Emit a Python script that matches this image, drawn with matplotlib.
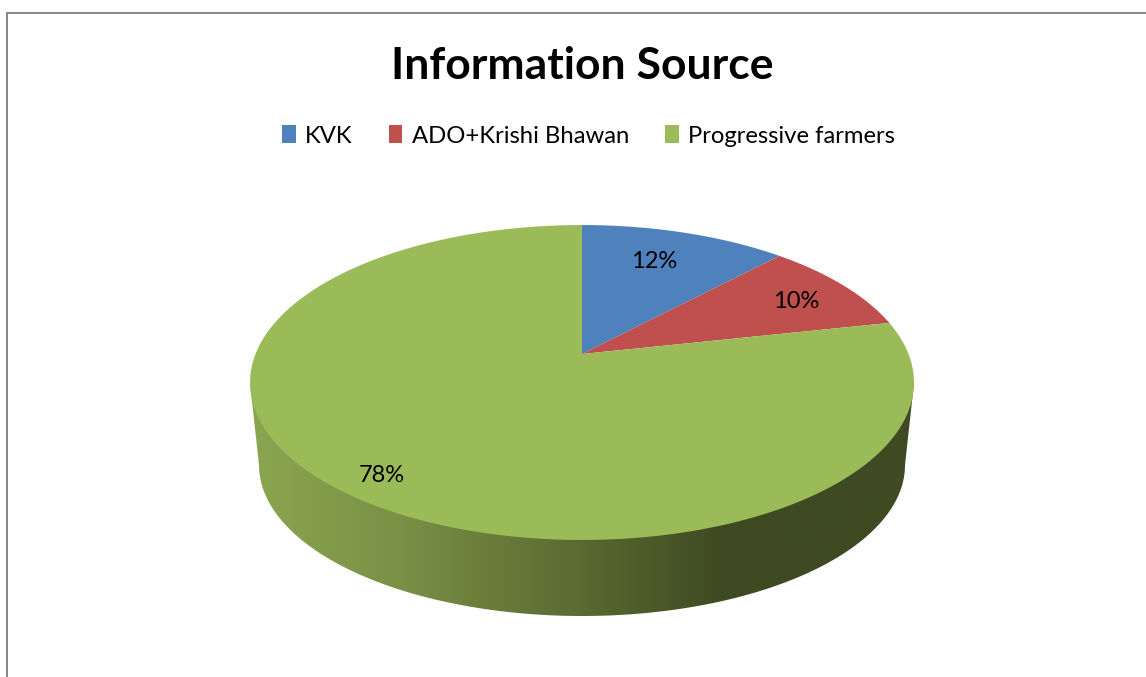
import numpy as np
import matplotlib
matplotlib.use("Agg")
import matplotlib.pyplot as plt
from matplotlib.colors import LinearSegmentedColormap
from matplotlib.patches import Patch, Polygon

plt.rcParams['font.family'] = ['Lato', 'DejaVu Sans']

# Data (labels show them rounded)
categories = ["KVK", "ADO+Krishi Bhawan", "Progressive farmers"]
shares = [12, 9.6, 78.4]
colors = ["#4F81BD", "#C0504D", "#9BBB59"]

# Pie top as a perspective view of the unit circle (pixel units)
APEX_X, APEX_Y = 582, 354
SCALE_X, SCALE_Y, PERSP = 326.5, 152.3, 0.181


def project(x, y):
    den = 1 + PERSP * y
    return APEX_X + SCALE_X * x / den, APEX_Y - SCALE_Y * y / den


def circle_xy(start, stop, n=300):
    # angles clockwise from 12 o'clock, in degrees
    a = np.radians(np.linspace(start, stop, n))
    return project(np.sin(a), np.cos(a))


fig = plt.figure(figsize=(11.46, 6.77), dpi=100)
ax = fig.add_axes([0, 0, 1, 1])
ax.set_xlim(0, 1146)
ax.set_ylim(677, 0)
ax.axis("off")

# Side wall of the pie, gradient clipped to its outline
t = np.radians(np.linspace(0, 180, 300))
wall_x = np.r_[250, 914, 582 + 323 * np.cos(t)]
wall_y = np.r_[383, 383, 465 + 151 * np.sin(t)]
wall = Polygon(np.c_[wall_x, wall_y], closed=True, facecolor="none", edgecolor="none",
               transform=ax.transData)
ax.add_patch(wall)
wall_cmap = LinearSegmentedColormap.from_list("wall", [
    (0.0, "#8BA650"), (0.22, "#7A9146"), (0.50, "#5A6A31"), (0.71, "#3F4A22"), (1.0, "#3F4A22"),
])
im = ax.imshow(np.linspace(0, 1, 256)[None, :], cmap=wall_cmap, extent=(250, 914, 620, 380),
               aspect="auto", zorder=1)
im.set_clip_path(wall)
ax.set_xlim(0, 1146)
ax.set_ylim(677, 0)

# Top face
edges = np.cumsum([0] + shares) * 3.6
for i in range(len(shares)):
    xs, ys = circle_xy(edges[i], edges[i + 1])
    ax.fill(np.r_[APEX_X, xs], np.r_[APEX_Y, ys], color=colors[i], linewidth=0, zorder=2)

# Slice labels
label_pos = [(654, 262), (796, 302), (382, 476)]
for share, (lx, ly) in zip(shares, label_pos):
    ax.text(lx, ly, f"{share:.0f}%", ha="center", va="center", fontsize=17, color="black", zorder=3)

ax.text(582.5, 66, "Information Source", ha="center", va="center", fontsize=32,
        fontweight="bold", color="black")

handles = [Patch(facecolor=c, edgecolor="none") for c in colors]
fig.legend(handles, categories, loc="center", bbox_to_anchor=(588.5 / 1146, 1 - 136 / 677),
           ncol=3, frameon=False, fontsize=17.2, handlelength=0.57, handleheight=0.75,
           handletextpad=0.38, columnspacing=1.53, borderpad=0, labelcolor="black")

# Chart frame, only top and left are inside the crop
ax.plot([6.5, 6.5, 1146], [677, 12.5, 12.5], color="#868686", linewidth=1.4,
        solid_joinstyle="miter", zorder=4)

fig.savefig("out.png", dpi=100, facecolor="white")
